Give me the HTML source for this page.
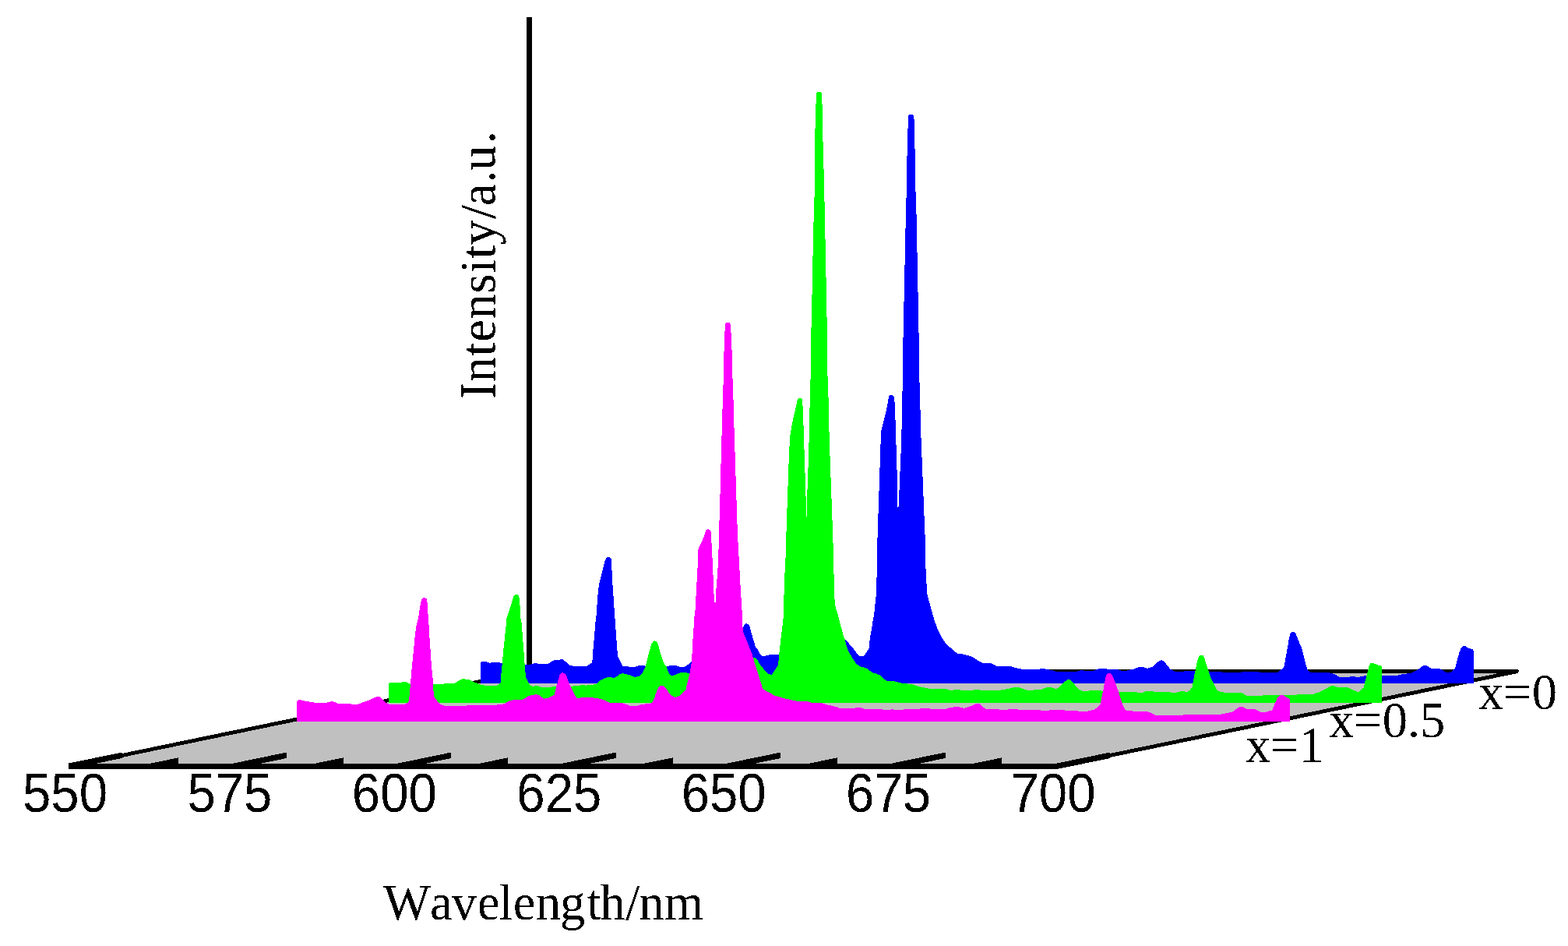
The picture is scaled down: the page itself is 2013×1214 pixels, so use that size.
<!DOCTYPE html>
<html lang="en">
<head>
<meta charset="utf-8">
<title>Emission spectra: Intensity vs Wavelength</title>
<style>
html,body{margin:0;padding:0;background:#fff;}
body{width:2013px;height:1214px;overflow:hidden;}
svg{display:block;}
</style>
</head>
<body>
<svg width="2013" height="1214" viewBox="0 0 2013 1214">
<rect x="0" y="0" width="2013" height="1214" fill="#ffffff"/>
<defs><filter id="bw" x="-5%" y="-5%" width="110%" height="110%" color-interpolation-filters="sRGB"><feComponentTransfer><feFuncA type="discrete" tableValues="0 1"/></feComponentTransfer></filter></defs>
<g shape-rendering="crispEdges">
<rect x="676" y="22" width="7" height="842" fill="#000"/>
<polygon fill="#c0c0c0" points="88.5,983.5 1357.0,983.5 1949.0,861.3 680.0,861.3"/>
<polygon fill="#000" points="88.5,981.0 680.0,858.8 680.0,863.8 88.5,986.0"/>
<polygon fill="#000" points="1357.0,981.0 1949.0,858.8 1949.0,863.8 1357.0,986.0"/>
<polygon fill="#000" points="677.0,859.0 1948.0,859.0 1950.0,860.5 1949.5,862.0 1943.0,863.6 677.0,863.6"/>
<polygon fill="#000" points="88.5,979.5 156.5,965.5 156.5,973.0 88.5,987.0"/>
<polygon fill="#000" points="194.2,979.5 229.2,972.3 229.2,979.8 194.2,987.0"/>
<polygon fill="#000" points="299.9,979.5 367.9,965.5 367.9,973.0 299.9,987.0"/>
<polygon fill="#000" points="405.6,979.5 440.6,972.3 440.6,979.8 405.6,987.0"/>
<polygon fill="#000" points="511.3,979.5 579.3,965.5 579.3,973.0 511.3,987.0"/>
<polygon fill="#000" points="617.0,979.5 652.0,972.3 652.0,979.8 617.0,987.0"/>
<polygon fill="#000" points="722.8,979.5 790.8,965.5 790.8,973.0 722.8,987.0"/>
<polygon fill="#000" points="828.5,979.5 863.5,972.3 863.5,979.8 828.5,987.0"/>
<polygon fill="#000" points="934.2,979.5 1002.2,965.5 1002.2,973.0 934.2,987.0"/>
<polygon fill="#000" points="1039.9,979.5 1074.9,972.3 1074.9,979.8 1039.9,987.0"/>
<polygon fill="#000" points="1145.6,979.5 1213.6,965.5 1213.6,973.0 1145.6,987.0"/>
<polygon fill="#000" points="1251.3,979.5 1286.3,972.3 1286.3,979.8 1251.3,987.0"/>
<polygon fill="#000" points="1357.0,979.5 1425.0,965.5 1425.0,973.0 1357.0,987.0"/>
<polygon fill="#000" points="87.5,980.0 1358.0,980.0 1359.0,987.0 87.5,987.0"/>
<polygon fill="#0000ff" points="617.1,876.9 617.1,850.9 618.1,849.4 623.7,849.1 625.5,850.0 629.2,850.9 630.5,850.2 641.0,850.2 644.8,851.1 674.6,853.3 680.8,852.7 684.5,851.5 688.2,851.1 692.0,851.8 703.8,851.8 706.9,849.6 711.2,847.4 716.8,847.1 720.5,846.1 723.0,846.5 726.7,849.6 729.8,852.7 732.3,854.0 736.7,854.8 753.4,854.8 757.2,852.1 760.3,850.2 760.9,839.7 762.1,827.3 763.0,816.1 764.0,803.7 765.0,792.5 765.5,790.3 766.3,779.2 767.3,765.5 768.3,755.6 769.3,749.4 770.8,742.5 772.5,735.7 774.2,729.5 776.0,722.0 777.9,716.4 779.5,715.2 781.0,714.8 782.8,715.4 784.5,717.1 785.0,724.5 785.7,734.5 786.2,746.9 787.2,760.5 788.2,775.4 789.2,789.1 789.9,800.0 790.3,804.9 791.3,819.8 792.3,832.2 793.2,842.8 795.7,847.1 797.5,850.9 799.4,854.6 806.8,855.2 808.7,856.1 815.5,855.8 819.9,854.3 827.3,854.3 829.2,855.2 855.6,855.2 861.2,854.2 868.6,854.3 872.4,855.8 877.9,855.8 881.0,854.6 884.8,851.5 887.9,849.0 924.5,833.5 954.3,804.9 955.6,801.8 958.0,799.9 961.2,801.8 963.0,805.5 964.3,811.1 966.1,817.3 968.0,823.5 969.8,829.7 973.0,834.1 975.4,838.4 977.9,841.5 981.6,841.9 985.4,840.9 989.7,840.0 1000.3,840.0 1048.7,831.0 1085.3,821.0 1088.5,824.2 1092.2,828.5 1095.9,832.8 1097.5,834.7 1100.6,839.1 1103.0,841.9 1108.6,841.9 1112.4,837.2 1115.5,832.2 1116.3,823.5 1117.6,814.8 1119.2,806.1 1120.4,797.5 1122.0,790.0 1124.9,762.2 1126.1,720.0 1126.1,703.5 1127.1,672.5 1128.1,641.5 1129.1,612.9 1130.1,581.8 1131.1,553.3 1134.3,540.9 1136.8,530.9 1139.3,519.7 1141.0,508.6 1142.5,506.8 1146.0,506.8 1148.0,509.8 1149.0,522.2 1150.0,554.5 1151.0,586.8 1152.0,619.1 1152.5,650.9 1153.5,650.1 1154.5,629.0 1155.4,607.9 1156.4,585.6 1157.4,557.0 1158.4,508.6 1158.9,480.0 1158.9,462.3 1159.9,415.1 1160.9,369.2 1161.9,322.0 1162.9,274.8 1163.9,240.0 1163.9,228.5 1164.9,182.6 1166.1,149.0 1167.4,147.0 1171.6,147.0 1173.1,149.0 1173.8,156.5 1174.8,204.9 1175.1,239.9 1176.1,253.7 1177.1,303.3 1178.1,353.0 1179.0,401.5 1180.0,451.1 1180.0,479.9 1181.0,501.1 1182.0,549.5 1183.0,574.4 1184.0,599.2 1185.0,624.1 1186.0,648.9 1187.0,673.7 1188.0,698.6 1188.0,719.9 1190.2,762.2 1197.8,790.0 1199.3,795.0 1201.2,800.6 1203.0,805.5 1205.5,811.1 1208.0,816.1 1210.5,820.4 1213.0,824.2 1215.4,827.3 1219.2,830.4 1222.9,833.5 1226.6,836.6 1230.3,839.1 1235.3,839.4 1240.3,840.5 1245.2,841.9 1250.2,844.0 1253.9,846.5 1257.7,849.0 1262.0,850.9 1272.6,851.1 1275.7,852.7 1278.8,854.6 1297.4,855.0 1301.1,856.4 1307.3,857.7 1312.3,858.7 1334.7,858.7 1335.0,858.1 1339.3,858.1 1345.5,859.2 1351.1,860.2 1356.1,861.8 1379.7,862.0 1382.2,861.8 1386.5,860.2 1390.2,860.2 1392.1,860.8 1403.3,860.8 1407.0,859.5 1411.3,858.1 1420.7,858.1 1421.9,858.9 1434.9,859.2 1438.7,860.5 1446.7,860.8 1449.2,859.8 1455.4,858.9 1459.2,857.1 1462.9,856.1 1467.9,856.1 1472.8,857.7 1476.5,856.8 1480.3,855.2 1484.0,851.5 1487.7,848.4 1490.8,846.9 1493.9,848.1 1497.0,852.1 1500.1,855.8 1502.6,858.9 1507.6,861.0 1508.8,861.8 1518.8,861.8 1521.3,860.8 1533.7,860.8 1573.4,862.7 1573.7,862.9 1593.6,862.9 1594.8,862.0 1616.0,862.0 1617.2,862.9 1640.8,862.9 1644.5,859.5 1648.2,856.4 1649.5,849.6 1651.3,839.7 1653.2,829.7 1654.5,821.0 1656.3,813.6 1658.2,811.4 1661.9,811.1 1663.8,813.6 1665.6,818.6 1668.1,824.8 1671.8,833.5 1673.7,842.2 1675.6,849.6 1677.4,855.8 1679.3,860.8 1683.0,862.9 1706.6,863.3 1712.8,865.1 1716.5,867.0 1720.3,869.1 1730.2,869.1 1735.2,868.0 1743.9,868.9 1748.8,868.0 1753.8,867.0 1774.3,867.0 1793.5,867.0 1794.0,866.8 1800.3,865.1 1810.2,864.1 1815.2,862.0 1820.1,859.5 1823.9,856.4 1827.6,854.3 1831.9,854.2 1835.0,856.4 1838.1,857.9 1845.0,857.7 1847.5,857.7 1851.2,859.5 1854.9,862.0 1857.4,862.9 1861.1,862.9 1864.8,860.8 1867.9,857.7 1869.8,850.9 1871.7,843.4 1873.5,837.2 1875.4,832.2 1877.9,829.4 1881.0,829.1 1884.1,831.0 1888.4,832.6 1890.9,833.5 1891.9,835.3 1891.9,876.9"/>
<polygon fill="#00ff00" points="499.2,901.8 499.2,877.6 500.4,876.1 514.1,876.1 516.5,875.1 520.9,875.1 524.0,876.3 526.7,877.9 555.7,878.2 568.7,878.2 570.0,877.3 582.4,877.3 586.1,875.4 591.1,872.2 594.8,871.0 599.8,872.0 603.5,872.6 608.5,875.1 613.4,877.2 613.7,877.6 617.5,878.8 626.8,880.4 636.7,880.4 640.4,878.2 642.5,875.7 643.5,864.5 644.8,850.9 646.0,837.2 647.3,824.8 648.5,813.6 649.5,803.7 650.4,793.7 650.5,792.8 652.1,787.9 654.0,782.9 655.9,776.7 657.7,770.5 659.6,764.9 661.1,763.3 662.7,762.8 664.6,763.3 665.8,764.3 667.0,769.2 667.7,779.2 668.3,790.3 668.9,800.0 669.4,797.5 670.2,806.1 670.9,816.1 671.7,826.0 672.7,839.7 673.6,852.1 674.6,864.5 675.2,869.5 677.7,874.5 679.5,877.6 682.0,880.4 684.5,880.7 688.2,880.0 692.0,880.7 695.7,881.9 706.9,881.7 713.7,880.7 734.2,880.7 744.7,879.7 747.9,878.8 751.6,879.7 765.2,878.2 767.7,875.7 771.5,872.6 776.4,870.1 780.1,869.2 788.8,869.7 792.6,867.6 796.3,864.8 799.4,864.1 803.7,865.1 808.7,866.4 814.9,868.9 821.1,867.6 824.9,863.3 828.6,855.8 831.1,845.9 833.5,836.0 836.0,827.3 838.5,823.3 841.0,822.3 843.5,823.8 845.3,828.5 847.2,836.0 849.7,843.4 852.2,850.9 855.6,855.2 857.5,860.8 859.9,866.4 864.3,866.8 868.6,865.1 873.0,863.5 877.9,863.0 886.0,864.1 924.5,859.5 966.1,843.2 969.2,844.0 972.3,847.1 975.4,852.1 979.2,857.1 982.9,861.4 986.6,865.1 991.0,865.8 994.1,860.8 997.2,856.4 999.0,853.3 999.7,845.9 1000.9,833.5 1002.1,822.3 1003.4,812.4 1004.6,802.4 1005.9,790.0 1006.9,744.8 1008.4,720.0 1009.2,692.4 1010.1,663.8 1011.1,635.2 1012.1,606.7 1013.1,579.4 1014.4,558.2 1016.4,547.1 1018.8,534.6 1021.8,522.2 1023.8,512.3 1025.0,511.0 1028.8,511.0 1030.0,512.3 1031.0,529.7 1032.0,560.7 1033.0,591.8 1034.0,621.6 1035.0,651.4 1035.5,662.6 1036.0,662.6 1036.2,636.5 1037.2,609.2 1038.2,581.8 1039.2,537.1 1040.2,492.4 1040.9,480.0 1040.9,443.7 1042.2,394.0 1043.2,344.3 1044.2,294.6 1045.9,240.0 1045.9,196.2 1046.9,146.5 1048.1,119.2 1049.9,118.2 1053.6,118.2 1055.1,119.7 1055.6,136.6 1056.6,186.3 1058.1,236.0 1058.1,240.0 1059.1,286.0 1060.1,335.6 1061.1,386.5 1062.1,436.2 1062.1,479.9 1063.1,487.5 1064.0,537.1 1065.0,570.7 1066.0,599.2 1067.0,626.5 1068.0,653.9 1069.0,682.4 1070.0,711.0 1071.0,762.2 1072.2,777.1 1076.0,790.0 1077.9,797.5 1079.8,804.9 1082.2,813.6 1084.7,821.0 1086.6,828.5 1088.5,833.5 1090.9,838.4 1094.0,844.0 1097.1,849.0 1099.9,852.1 1103.7,855.2 1108.6,856.4 1112.4,857.7 1116.1,860.2 1119.8,863.3 1124.8,864.5 1129.7,866.4 1133.5,870.1 1137.8,873.5 1142.2,874.1 1148.4,874.2 1153.3,875.7 1159.5,876.9 1170.7,878.2 1178.2,880.7 1185.6,882.2 1193.1,883.8 1214.2,884.0 1219.2,885.6 1222.3,885.9 1225.4,885.0 1234.1,885.6 1249.0,885.9 1251.5,885.0 1256.4,885.0 1260.1,885.9 1283.7,885.9 1288.7,884.8 1293.7,884.1 1298.6,882.8 1303.0,881.9 1307.3,881.9 1312.3,883.8 1318.5,885.6 1324.7,885.9 1329.7,885.0 1335.9,884.6 1337.5,885.0 1341.2,882.9 1346.1,881.9 1351.1,882.5 1356.1,884.0 1359.8,881.9 1363.5,878.2 1367.3,874.5 1371.0,872.0 1374.1,872.2 1377.2,875.7 1380.9,880.0 1384.6,884.4 1389.6,886.9 1397.1,886.9 1399.5,885.9 1412.0,885.9 1415.7,886.9 1438.0,888.1 1459.2,888.1 1461.6,889.0 1466.6,889.0 1470.3,887.5 1475.3,886.9 1480.3,887.1 1482.8,888.1 1501.4,888.1 1503.9,889.0 1508.8,889.0 1512.6,888.1 1516.3,887.1 1520.0,887.1 1523.7,888.1 1527.5,885.6 1530.6,881.9 1531.8,874.5 1533.7,864.5 1535.5,855.8 1537.4,847.1 1539.3,842.2 1541.7,840.7 1544.9,841.2 1546.7,845.9 1548.6,852.1 1551.1,859.5 1553.5,867.0 1556.0,873.2 1559.1,879.4 1562.2,885.6 1567.2,887.9 1573.4,889.0 1593.6,889.0 1596.7,890.6 1601.0,892.8 1619.7,892.8 1622.2,892.1 1634.6,892.1 1656.3,892.1 1664.4,891.8 1666.9,891.0 1686.7,891.0 1689.2,889.4 1694.2,888.1 1699.2,885.6 1704.1,882.9 1707.9,880.7 1711.0,879.9 1714.1,880.7 1719.0,882.5 1730.2,882.2 1733.9,883.8 1738.9,886.2 1743.9,888.1 1747.6,885.0 1750.7,882.5 1751.9,876.9 1753.8,869.5 1755.7,862.0 1757.5,854.6 1759.4,851.5 1761.9,850.9 1765.0,851.7 1768.7,853.3 1772.4,854.3 1773.9,855.2 1773.9,901.8"/>
<polygon fill="#ff00ff" points="381.2,925.6 381.2,900.5 382.4,898.7 384.9,898.0 388.6,899.0 392.4,899.9 396.7,900.5 401.0,901.2 405.4,902.0 412.2,902.1 418.4,902.0 422.2,900.9 426.5,900.0 429.0,900.9 432.1,902.1 435.2,903.0 442.0,903.1 450.1,903.3 452.0,903.9 459.4,903.9 463.1,902.4 468.1,900.3 473.1,898.7 478.0,896.6 481.8,894.7 485.5,893.9 488.0,894.6 491.7,898.0 495.4,901.8 499.2,903.6 501.6,904.0 519.0,904.0 524.0,901.8 525.2,896.8 526.2,886.9 527.1,875.7 528.0,864.5 529.0,853.3 530.2,842.8 531.2,832.2 532.1,822.3 533.1,812.4 534.2,804.9 535.2,799.9 536.4,795.0 537.0,792.8 538.0,786.6 539.0,780.4 540.0,774.2 541.0,769.2 542.8,767.6 544.7,767.1 546.6,767.6 548.2,769.2 548.7,775.4 549.2,786.6 549.9,790.3 549.9,800.0 550.7,802.4 551.3,816.1 552.3,829.7 553.2,843.4 554.2,857.1 555.0,864.5 555.7,871.3 556.3,884.4 556.9,893.1 558.8,896.2 561.3,899.3 563.7,902.4 566.8,904.3 570.0,905.5 574.9,905.9 598.5,905.9 599.8,905.1 613.4,904.9 622.4,904.9 634.8,904.9 647.3,903.3 649.7,901.8 653.5,899.5 659.7,898.0 670.9,897.8 674.6,895.6 678.3,893.3 684.5,891.6 689.5,891.2 692.0,892.1 695.7,894.9 698.2,896.6 703.1,895.8 708.1,893.3 711.8,891.6 713.1,885.6 714.9,878.8 716.8,872.0 718.7,865.8 720.5,863.5 723.0,863.3 725.5,864.5 727.4,868.2 729.2,873.2 731.7,879.4 734.2,884.4 737.3,890.6 740.4,895.6 741.6,896.2 746.6,895.3 759.0,895.2 767.7,896.2 775.2,898.0 778.9,899.9 782.6,901.8 798.8,902.0 803.7,903.6 808.7,905.7 818.6,905.7 822.4,904.3 833.5,902.8 837.3,901.8 839.8,896.8 842.2,889.4 844.7,883.1 847.2,880.3 851.6,880.0 854.0,882.5 857.1,886.2 859.3,890.0 862.4,892.8 866.8,894.9 871.1,893.7 874.8,890.6 880.4,885.0 881.7,879.4 883.5,872.0 885.4,864.5 886.6,857.1 887.9,849.6 888.5,839.7 889.1,826.0 889.7,817.3 890.4,808.6 891.0,797.5 891.6,790.0 892.0,791.6 893.0,774.2 894.0,756.8 894.9,739.4 895.9,722.0 896.1,705.9 897.1,703.4 899.0,699.1 900.8,695.3 902.7,691.0 904.6,686.0 906.4,680.4 907.9,679.4 909.5,679.2 911.4,679.8 912.6,681.7 913.0,696.0 913.9,698.4 914.5,715.8 915.4,734.5 916.1,753.1 917.0,773.0 917.8,773.0 918.8,772.3 919.1,759.3 920.3,745.6 921.3,733.2 922.3,713.3 923.2,678.6 924.1,650.0 925.2,606.7 926.2,570.7 927.2,534.6 928.2,504.8 928.9,480.0 929.9,433.7 931.2,415.1 932.4,413.9 936.4,413.9 937.9,416.4 938.9,433.7 940.1,464.8 940.1,479.9 941.1,494.9 941.8,526.0 942.8,558.2 943.8,589.3 944.8,620.3 945.8,651.4 946.8,682.3 947.7,699.7 948.6,715.8 949.6,733.2 950.5,750.6 951.5,766.7 952.6,784.1 953.0,800.0 953.1,801.2 954.1,811.1 955.6,814.8 958.0,820.4 960.5,826.6 963.0,832.8 965.5,839.1 967.4,845.9 969.2,852.1 971.1,857.7 973.0,863.3 974.8,869.5 976.7,875.7 979.2,883.8 984.1,886.9 989.1,889.4 994.1,892.5 1000.3,894.3 1005.2,895.9 1011.5,897.2 1017.7,898.7 1023.9,899.9 1036.3,900.2 1042.5,901.8 1054.9,902.1 1061.1,904.3 1068.6,905.9 1073.5,907.1 1078.5,908.9 1095.9,908.9 1097.5,908.9 1099.3,908.0 1104.9,908.0 1109.9,909.8 1132.2,910.1 1133.5,910.7 1143.4,910.7 1145.3,909.8 1147.1,910.7 1159.5,910.7 1160.8,909.8 1180.7,909.8 1181.9,909.0 1193.1,909.0 1194.9,909.8 1214.2,909.8 1219.2,908.0 1224.1,907.6 1226.6,906.7 1230.3,907.0 1234.1,908.0 1237.8,909.0 1244.0,907.0 1247.7,905.5 1252.7,903.0 1257.7,903.0 1261.4,906.7 1265.1,909.8 1281.9,910.1 1283.1,910.8 1293.7,910.8 1295.5,910.0 1306.1,910.0 1307.3,910.8 1335.9,911.1 1336.2,912.0 1346.1,912.0 1348.0,910.8 1366.0,910.8 1367.3,912.0 1383.4,912.0 1384.6,913.0 1396.4,913.0 1397.7,912.0 1404.5,911.1 1408.2,908.0 1412.6,903.6 1414.5,894.3 1416.3,885.6 1418.2,875.7 1420.0,867.0 1421.9,864.1 1426.2,864.1 1428.7,868.2 1431.2,874.5 1433.7,881.9 1436.2,888.1 1438.0,894.3 1439.9,900.5 1441.8,906.1 1444.3,910.5 1447.4,912.0 1453.0,912.1 1454.2,913.0 1472.2,913.0 1476.5,914.2 1479.7,916.1 1483.4,917.9 1518.8,917.9 1520.0,917.0 1567.2,917.0 1568.5,916.1 1573.4,915.4 1576.2,914.8 1581.8,913.6 1584.9,911.7 1588.6,908.6 1592.4,906.7 1596.1,907.4 1601.0,909.8 1611.0,910.1 1614.7,911.7 1618.4,913.8 1624.6,913.8 1628.4,912.7 1633.3,911.7 1635.2,906.7 1637.7,900.5 1640.2,894.9 1642.7,892.5 1647.6,892.1 1650.7,894.3 1654.5,896.2 1655.9,897.1 1655.9,925.6"/>
</g>
<g font-family="'Liberation Sans', Arial, Helvetica, sans-serif" font-size="66" fill="#000" text-anchor="middle" filter="url(#bw)">
<text transform="translate(83.5,1041.8) scale(0.99,1.055)">550</text>
<text transform="translate(294.9,1041.8) scale(0.99,1.055)">575</text>
<text transform="translate(506.3,1041.8) scale(0.99,1.055)">600</text>
<text transform="translate(717.8,1041.8) scale(0.99,1.055)">625</text>
<text transform="translate(929.2,1041.8) scale(0.99,1.055)">650</text>
<text transform="translate(1140.6,1041.8) scale(0.99,1.055)">675</text>
<text transform="translate(1352.0,1041.8) scale(0.99,1.055)">700</text>
</g>
<g font-family="'Liberation Serif', 'Times New Roman', Times, serif" font-size="64.5" fill="#000" style="font-kerning:none" filter="url(#bw)">
<text x="494.5" y="1180" letter-spacing="-0.4" dx="-2.5 -0.5 -0.5 1.5 -1 1 1 -1 3 -1 1 -0.5 1">Wavelength/nm</text>
<text x="1599" y="978">x=1</text>
<text x="1706" y="946">x=0.5</text>
<text x="1898" y="910">x=0</text>
<text transform="translate(635.5,512.3) rotate(-90)" letter-spacing="0.62" dx="0 0 0 0 0 0 0 0 -1 1 -2 0.7 -1 1.5">Intensity/a.u.</text>
</g>
</svg>
</body>
</html>
